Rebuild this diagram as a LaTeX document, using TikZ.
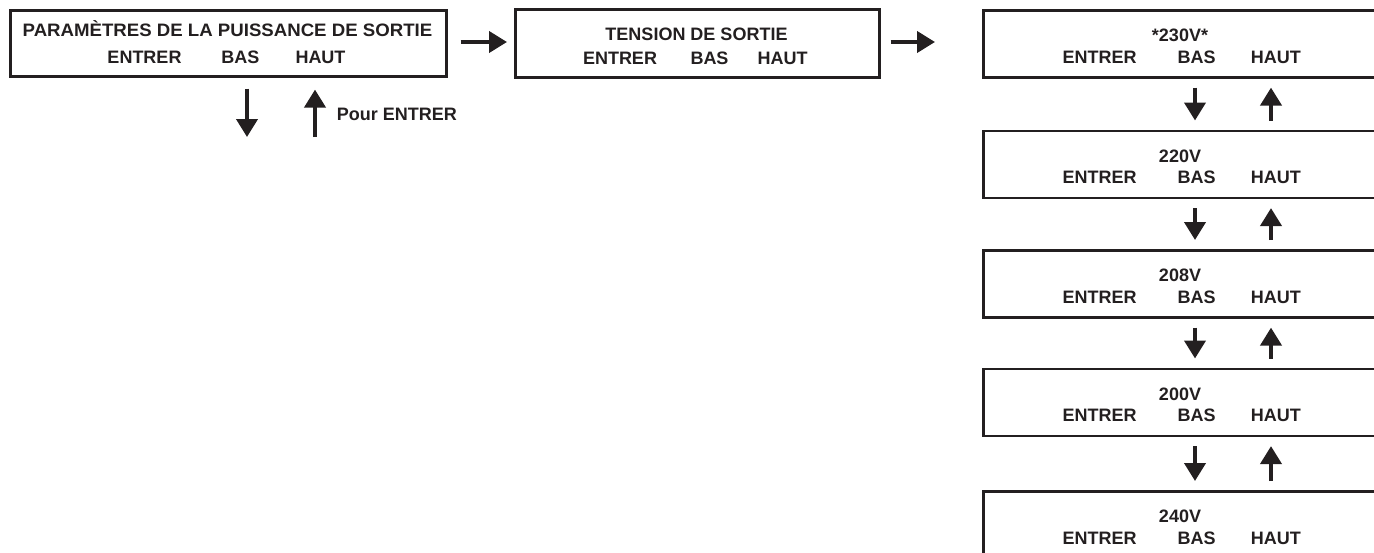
\documentclass[tikz,border=0pt]{standalone}
\usepackage{fontspec}
\usepackage{graphicx}
\setmainfont{Liberation Sans}
\usetikzlibrary{arrows.meta}
\definecolor{ink}{HTML}{231F20}
\tikzset{
  panel/.style={draw=ink, line width=2.6pt, fill=none, inner sep=0pt, anchor=north west},
  lbl/.style={font=\fontsize{18}{20}\selectfont\bfseries, text=ink, inner sep=0pt, anchor=base},
  arr/.style={draw=ink, line width=4pt, -{Triangle[length=18pt,width=21pt]}},
}
\begin{document}
\begin{tikzpicture}[x=1pt,y=-1pt]
\path[use as bounding box, clip] (0,0) rectangle (1374,552);
% main boxes
\node[panel, minimum width=436pt, minimum height=66pt] (b1) at (9,9) {};
\node[panel, minimum width=364pt, minimum height=68pt] (b2) at (514,8) {};
% right column boxes
\node[panel, minimum width=430pt, minimum height=67pt] (r1) at (982,9) {};
\node[panel, minimum width=430pt, minimum height=67pt] (r2) at (982,129.5) {};
\node[panel, minimum width=430pt, minimum height=67pt] (r3) at (982,249) {};
\node[panel, minimum width=430pt, minimum height=67pt] (r4) at (982,367.5) {};
\node[panel, minimum width=430pt, minimum height=67pt] (r5) at (982,490) {};
% texts box 1
\node[lbl] (t1) at (227.5,36) {\scalebox{1.035}[1]{PARAMÈTRES DE LA PUISSANCE DE SORTIE}};
\node[lbl] (t1e) at (144.5,63) {ENTRER};
\node[lbl] (t1b) at (240.5,63) {BAS};
\node[lbl] (t1h) at (320.5,63) {HAUT};
% texts box 2
\node[lbl] (t2) at (696.5,40) {TENSION DE SORTIE};
\node[lbl] (t2e) at (620,64.5) {ENTRER};
\node[lbl] (t2b) at (709.5,64.5) {BAS};
\node[lbl] (t2h) at (782.5,64.5) {HAUT};
% right column texts
\foreach \n/\v/\top in {1/*230V*/9, 2/220V/129.5, 3/208V/249, 4/200V/367.5, 5/240V/490}{
  \node[lbl] (v\n) at (1180,\top+32.5) {\v};
  \node[lbl] (e\n) at (1099.7,\top+54) {ENTRER};
  \node[lbl] (d\n) at (1196.5,\top+54) {BAS};
  \node[lbl] (u\n) at (1275.8,\top+54) {HAUT};
}
% horizontal arrows
\draw[arr, shorten <=13pt, shorten >=7pt] (b1.east |- 0,42) -- (b2.west |- 0,42);
\draw[arr, shorten <=10pt, shorten >=47pt] (b2.east |- 0,42) -- (r1.west |- 0,42);
% box 1 vertical arrows
\coordinate (dnEnd) at (247,137);
\coordinate (upStart) at (315,137);
\draw[arr, shorten <=11pt] (b1.south -| dnEnd) -- (dnEnd);
\draw[arr, shorten >=12pt] (upStart) -- (b1.south -| upStart);
\node[lbl, anchor=base west] (pour) at (336.7,120.5) {Pour ENTRER};
% right column vertical arrows
\coordinate (cd) at (1195,0);
\coordinate (cu) at (1271,0);
\foreach \a/\b in {r1/r2, r2/r3, r3/r4, r4/r5}{
  \draw[arr, shorten <=9pt, shorten >=9pt] (\a.south -| cd) -- (\b.north -| cd);
  \draw[arr, shorten <=9pt, shorten >=9pt] (\b.north -| cu) -- (\a.south -| cu);
}
\end{tikzpicture}
\end{document}
